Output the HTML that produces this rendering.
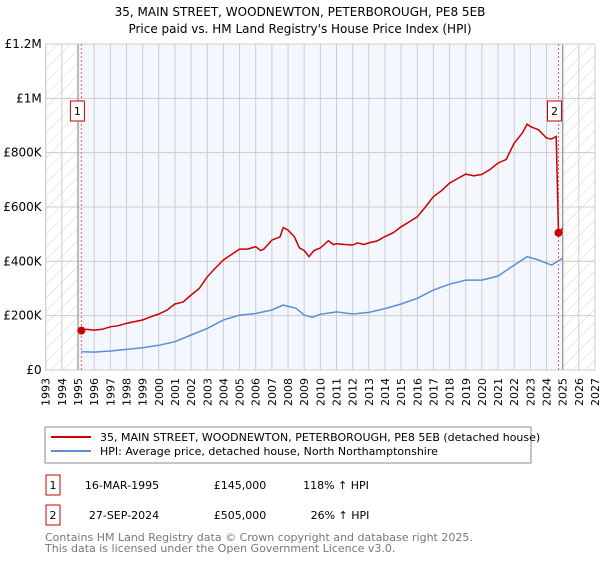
<!DOCTYPE html>
<html><head><meta charset="utf-8"><style>
body{margin:0;background:#fff;font-family:"Liberation Sans","DejaVu Sans",sans-serif;}
svg text{font-family:"DejaVu Sans","Liberation Sans",sans-serif;}
</style></head><body>
<svg id="c" width="600" height="560" xmlns="http://www.w3.org/2000/svg">
<defs><pattern id="hatch" width="9" height="9" patternUnits="userSpaceOnUse" patternTransform="rotate(45)"><line x1="0" y1="0" x2="0" y2="9" stroke="#ccc" stroke-width="0.8"/></pattern></defs>
<text x="300" y="16" text-anchor="middle" font-size="12" fill="#000">35, MAIN STREET, WOODNEWTON, PETERBOROUGH, PE8 5EB</text>
<text x="300" y="33" text-anchor="middle" font-size="12" fill="#000">Price paid vs. HM Land Registry's House Price Index (HPI)</text>
<g id="plot"></g>
<rect x="45" y="427" width="486" height="36" fill="#fff" stroke="#888"/>
<line x1="51" y1="437" x2="91" y2="437" stroke="#cc0000" stroke-width="2"/>
<text x="100" y="441" font-size="11">35, MAIN STREET, WOODNEWTON, PETERBOROUGH, PE8 5EB (detached house)</text>
<line x1="51" y1="451" x2="91" y2="451" stroke="#5b8fd6" stroke-width="2"/>
<text x="100" y="455" font-size="11">HPI: Average price, detached house, North Northamptonshire</text>
<g>
<rect x="46" y="475" width="14" height="20" fill="#fff" stroke="#cc0000"/><text x="53" y="489" font-size="11" text-anchor="middle">1</text>
<text x="122" y="489" font-size="11" text-anchor="middle">16-MAR-1995</text>
<text x="240" y="489" font-size="11" text-anchor="middle">£145,000</text>
<text x="336" y="489" font-size="11" text-anchor="middle">118% ↑ HPI</text></g>
<g>
<rect x="46" y="505" width="14" height="20" fill="#fff" stroke="#cc0000"/><text x="53" y="519" font-size="11" text-anchor="middle">2</text>
<text x="124" y="519" font-size="11" text-anchor="middle">27-SEP-2024</text>
<text x="240" y="519" font-size="11" text-anchor="middle">£505,000</text>
<text x="340" y="519" font-size="11" text-anchor="middle">26% ↑ HPI</text></g>
<text x="45" y="541" font-size="11" fill="#777">Contains HM Land Registry data © Crown copyright and database right 2025.</text>
<text x="45" y="552" font-size="11" fill="#777">This data is licensed under the Open Government Licence v3.0.</text>
</svg>
<script>
const yTicks=[0,200000,400000,600000,800000,1000000,1200000];
const yTickLabels=["£0","£200K","£400K","£600K","£800K","£1M","£1.2M"];
const years=[1993,1994,1995,1996,1997,1998,1999,2000,2001,2002,2003,2004,2005,2006,2007,2008,2009,2010,2011,2012,2013,2014,2015,2016,2017,2018,2019,2020,2021,2022,2023,2024,2025,2026,2027];
const redX=[1995.21,1995.5,1996,1996.5,1997,1997.5,1998,1998.5,1999,1999.5,2000,2000.5,2001,2001.5,2002,2002.5,2003,2003.5,2004,2004.5,2005,2005.5,2006,2006.3,2006.5,2007,2007.5,2007.7,2008,2008.4,2008.7,2009,2009.3,2009.6,2010,2010.5,2010.8,2011,2011.5,2012,2012.3,2012.7,2013,2013.5,2014,2014.5,2015,2015.5,2016,2016.5,2017,2017.5,2018,2018.5,2019,2019.5,2020,2020.5,2021,2021.5,2022,2022.5,2022.8,2023,2023.5,2024,2024.3,2024.6,2024.74,2025];
const redY=[145000,150000,147000,150000,159000,163000,172000,178000,184000,196000,206000,220000,243000,250000,276000,300000,343000,375000,405000,425000,445000,445000,454000,440000,445000,478000,490000,524000,515000,490000,450000,440000,417000,440000,449000,476000,462000,465000,462000,460000,468000,462000,468000,475000,491000,505000,527000,545000,564000,600000,638000,660000,688000,705000,721000,715000,720000,738000,762000,775000,835000,872000,905000,896000,884000,854000,850000,860000,505000,522000];
const blueX=[1995.21,1996,1997,1998,1999,2000,2001,2002,2003,2004,2005,2006,2007,2007.7,2008.5,2009,2009.5,2010,2011,2012,2013,2014,2015,2016,2017,2018,2019,2020,2021,2022,2022.8,2023.5,2024.3,2025];
const blueY=[67000,66000,70000,76000,82000,91000,104000,129000,153000,184000,202000,208000,221000,239000,227000,202000,194000,205000,214000,206000,212000,226000,243000,264000,294000,316000,331000,331000,346000,386000,417000,405000,386000,411000];
const sales=[[1995.21,145000,"1"],[2024.74,505000,"2"]];
const L=45.7,R=595,T=44,B=370,X0=1993,X1=2027,YM=1200000;
const xs=v=>L+(v-X0)/(X1-X0)*(R-L);
const ys=v=>B-v/YM*(B-T);
const NS="http://www.w3.org/2000/svg";
const g=document.getElementById('plot');
function mk(t,a){const e=document.createElementNS(NS,t);for(const k in a)e.setAttribute(k,a[k]);g.appendChild(e);return e;}
let e=mk('rect',{x:L,y:T,width:R-L,height:B-T,fill:'#f4f7fe'});


e=mk('rect',{x:L,y:T,width:xs(1995)-L,height:B-T,fill:'#fff'});
e=mk('rect',{x:L,y:T,width:xs(1995)-L,height:B-T,fill:'url(#hatch)'});


e=mk('rect',{x:xs(2025),y:T,width:R-xs(2025),height:B-T,fill:'#fff'});
e=mk('rect',{x:xs(2025),y:T,width:R-xs(2025),height:B-T,fill:'url(#hatch)'});


years.forEach(y=>{
 e=mk('line',{x1:xs(y),x2:xs(y),y1:T,y2:B,stroke:'#ccc','stroke-width':1});
 
 
 e=mk('text',{x:0,y:0,'font-size':11,'text-anchor':'end',transform:`translate(${xs(y)+4},378) rotate(-90)`});
 e.textContent=y;
 
 
});
yTicks.forEach((v,i)=>{
 e=mk('line',{x1:L,x2:R,y1:ys(v),y2:ys(v),stroke:'#ccc','stroke-width':1});
 
 
 e=mk('text',{x:L-4,y:ys(v)+4,'font-size':12,'text-anchor':'end'});
 e.textContent=yTickLabels[i];
 
 
});
[1995,2025].forEach(y=>{
 e=mk('line',{x1:xs(y),x2:xs(y),y1:T,y2:B,stroke:'#999','stroke-width':1.3});
 
 
});
e=mk('rect',{x:L,y:T,width:R-L,height:B-T,fill:'none',stroke:'#ccc'});


sales.forEach(s=>{
 e=mk('line',{x1:xs(s[0]),x2:xs(s[0]),y1:T,y2:B,stroke:'#f06060','stroke-width':1,'stroke-dasharray':'2,2'});
 
 
});
const path=(X,Y)=>X.map((x,i)=>(i?'L':'M')+xs(x).toFixed(1)+','+ys(Y[i]).toFixed(1)).join('');
e=mk('path',{d:path(blueX,blueY),fill:'none',stroke:'#5b8fd6','stroke-width':1.5});


e=mk('path',{d:path(redX,redY),fill:'none',stroke:'#cc0000','stroke-width':1.5});


sales.forEach(s=>{
 e=mk('circle',{cx:xs(s[0]),cy:ys(s[1]),r:4,fill:'#cc0000'});
 
 
 e=mk('rect',{x:xs(s[0])-11,y:101,width:14,height:20,fill:'#fff',stroke:'#cc0000'});
 
 
 e=mk('text',{x:xs(s[0])-4,y:115,'font-size':11,'text-anchor':'middle'});
 e.textContent=s[2];
 
 
});
</script>
</body></html>
